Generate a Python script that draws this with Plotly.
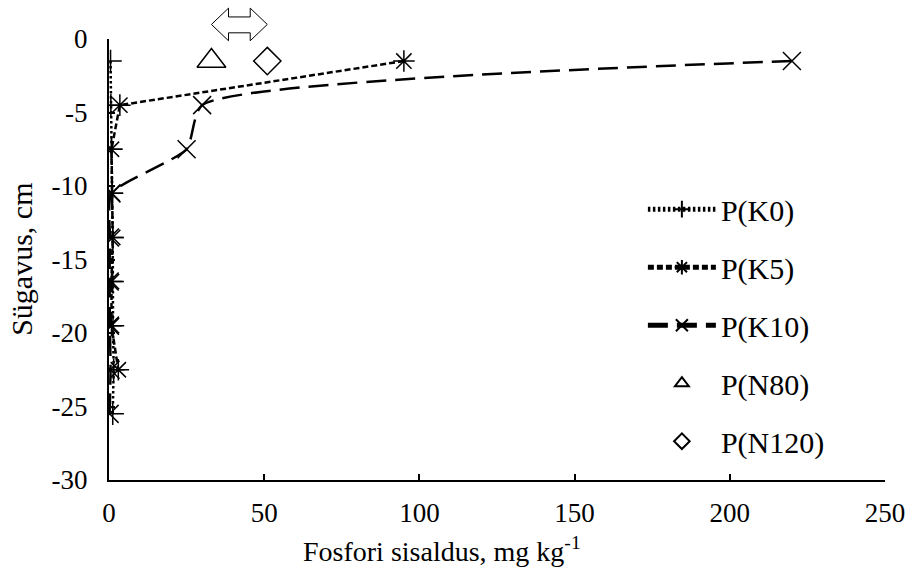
import plotly.graph_objects as go

# Sampling depths (cm, negative = below surface)
depth = [-1.5, -4.5, -7.5, -10.5, -13.5, -16.5, -19.5, -22.5, -25.5]

# Phosphorus content by treatment (mg kg-1)
p_k0 = [0.5, 0.6, 0.8, 1.0, 1.2, 1.2, 1.3, 1.5, 1.2]
p_k5 = [95, 3.5, 0.8, 1.0, 1.2, 0.8, 0.8, 3.0]
p_k10 = [220, 30, 25, 0.8, 0.3, 0.2, 0.3, 0.5, 0.2]
p_n80 = [33]
p_n120 = [51]
depth_n = [-1.5]

x_ticks = [0, 50, 100, 150, 200, 250]
y_ticks = [0, -5, -10, -15, -20, -25, -30]
y_tick_text = ["0", "-5", "-10", "-15", "-20", "-25", "-30"]

FONT = "Liberation Serif, Times New Roman, serif"
TICK_FS = 27
LEG_FS = 30
TITLE_FS = 28
BLACK = "#000000"

fig = go.Figure()

fig.add_trace(go.Scatter(
    x=p_k0, y=depth, name="P(K0)", mode="lines+markers",
    line=dict(color=BLACK, width=2.5, dash="2.5px,2.5px"),
    marker=dict(symbol="cross-thin-open", size=16, color=BLACK,
                line=dict(color=BLACK, width=1.5)),
    legendgroup="k0",
))
fig.add_trace(go.Scatter(
    x=p_k5, y=depth[:len(p_k5)], name="P(K5)", mode="lines+markers",
    line=dict(color=BLACK, width=2.5, dash="6px,3px"),
    marker=dict(symbol="asterisk-open", size=18, color=BLACK,
                line=dict(color=BLACK, width=1.5)),
    legendgroup="k5",
))
fig.add_trace(go.Scatter(
    x=p_k10, y=depth, name="P(K10)", mode="lines+markers",
    line=dict(color=BLACK, width=2.5, dash="20px,9px", shape="spline", smoothing=0.55),
    marker=dict(symbol="x-thin-open", size=18, color=BLACK,
                line=dict(color=BLACK, width=1.5)),
    legendgroup="k10",
))
fig.add_trace(go.Scatter(
    x=p_n80, y=depth_n, name="P(N80)", mode="markers",
    marker=dict(symbol="triangle-up-open", size=25, color=BLACK,
                line=dict(color=BLACK, width=1.5)),
    legendgroup="n80",
))
fig.add_trace(go.Scatter(
    x=p_n120, y=depth_n, name="P(N120)", mode="markers",
    marker=dict(symbol="diamond-open", size=21, color=BLACK,
                line=dict(color=BLACK, width=1.5)),
    legendgroup="n120",
))

# Double-headed arrow spanning the N80 .. N120 range above the plot
x_max = x_ticks[-1]
xa = p_n80[0] / x_max
xb = p_n120[0] / x_max
head = 0.022
y_top, y_shaft_top, y_mid, y_shaft_bot, y_bot = 1.070, 1.050, 1.033, 1.014, 0.996
arrow = (
    f"M {xa},{y_mid} L {xa + head},{y_top} L {xa + head},{y_shaft_top} "
    f"L {xb - head},{y_shaft_top} L {xb - head},{y_top} L {xb},{y_mid} "
    f"L {xb - head},{y_bot} L {xb - head},{y_shaft_bot} L {xa + head},{y_shaft_bot} "
    f"L {xa + head},{y_bot} Z"
)
fig.add_shape(type="path", path=arrow, xref="paper", yref="paper",
              line=dict(color=BLACK, width=1), fillcolor="white", layer="above")

fig.update_layout(
    width=917, height=570,
    margin=dict(l=109, r=26, t=39, b=90),
    paper_bgcolor="white", plot_bgcolor="white",
    font=dict(family=FONT, size=TICK_FS, color=BLACK),
    showlegend=True,
    legend=dict(
        x=0.688, y=0.673, xanchor="left", yanchor="top",
        font=dict(family=FONT, size=LEG_FS, color=BLACK),
        bgcolor="rgba(0,0,0,0)", traceorder="grouped", tracegroupgap=16,
        itemsizing="constant", itemwidth=68,
    ),
    xaxis=dict(
        range=[0, 250], tickvals=x_ticks, showgrid=False, zeroline=False,
        showline=True, linecolor=BLACK, linewidth=2,
        ticks="inside", ticklen=6, tickwidth=1.5, tickcolor=BLACK,
        ticklabelstandoff=8,
        tickfont=dict(family=FONT, size=TICK_FS, color=BLACK),
    ),
    yaxis=dict(
        range=[-30, 0], tickvals=y_ticks, ticktext=y_tick_text,
        showgrid=False, zeroline=False,
        showline=True, linecolor=BLACK, linewidth=2,
        ticks="inside", ticklen=6, tickwidth=1.5, tickcolor=BLACK,
        ticklabelstandoff=14,
        tickfont=dict(family=FONT, size=TICK_FS, color=BLACK),
    ),
    annotations=[
        dict(text="Fosfori sisaldus, mg kg<sup>-1</sup>", xref="paper", yref="paper",
             x=0.4297, y=-0.158, xanchor="center", yanchor="middle", showarrow=False,
             font=dict(family=FONT, size=TITLE_FS, color=BLACK)),
        dict(text="Sügavus, cm", xref="paper", yref="paper", textangle=-90,
             x=-0.113, y=0.5, xanchor="center", yanchor="middle", showarrow=False,
             font=dict(family=FONT, size=TITLE_FS + 2, color=BLACK)),
    ],
)

fig.write_html("out.html")
